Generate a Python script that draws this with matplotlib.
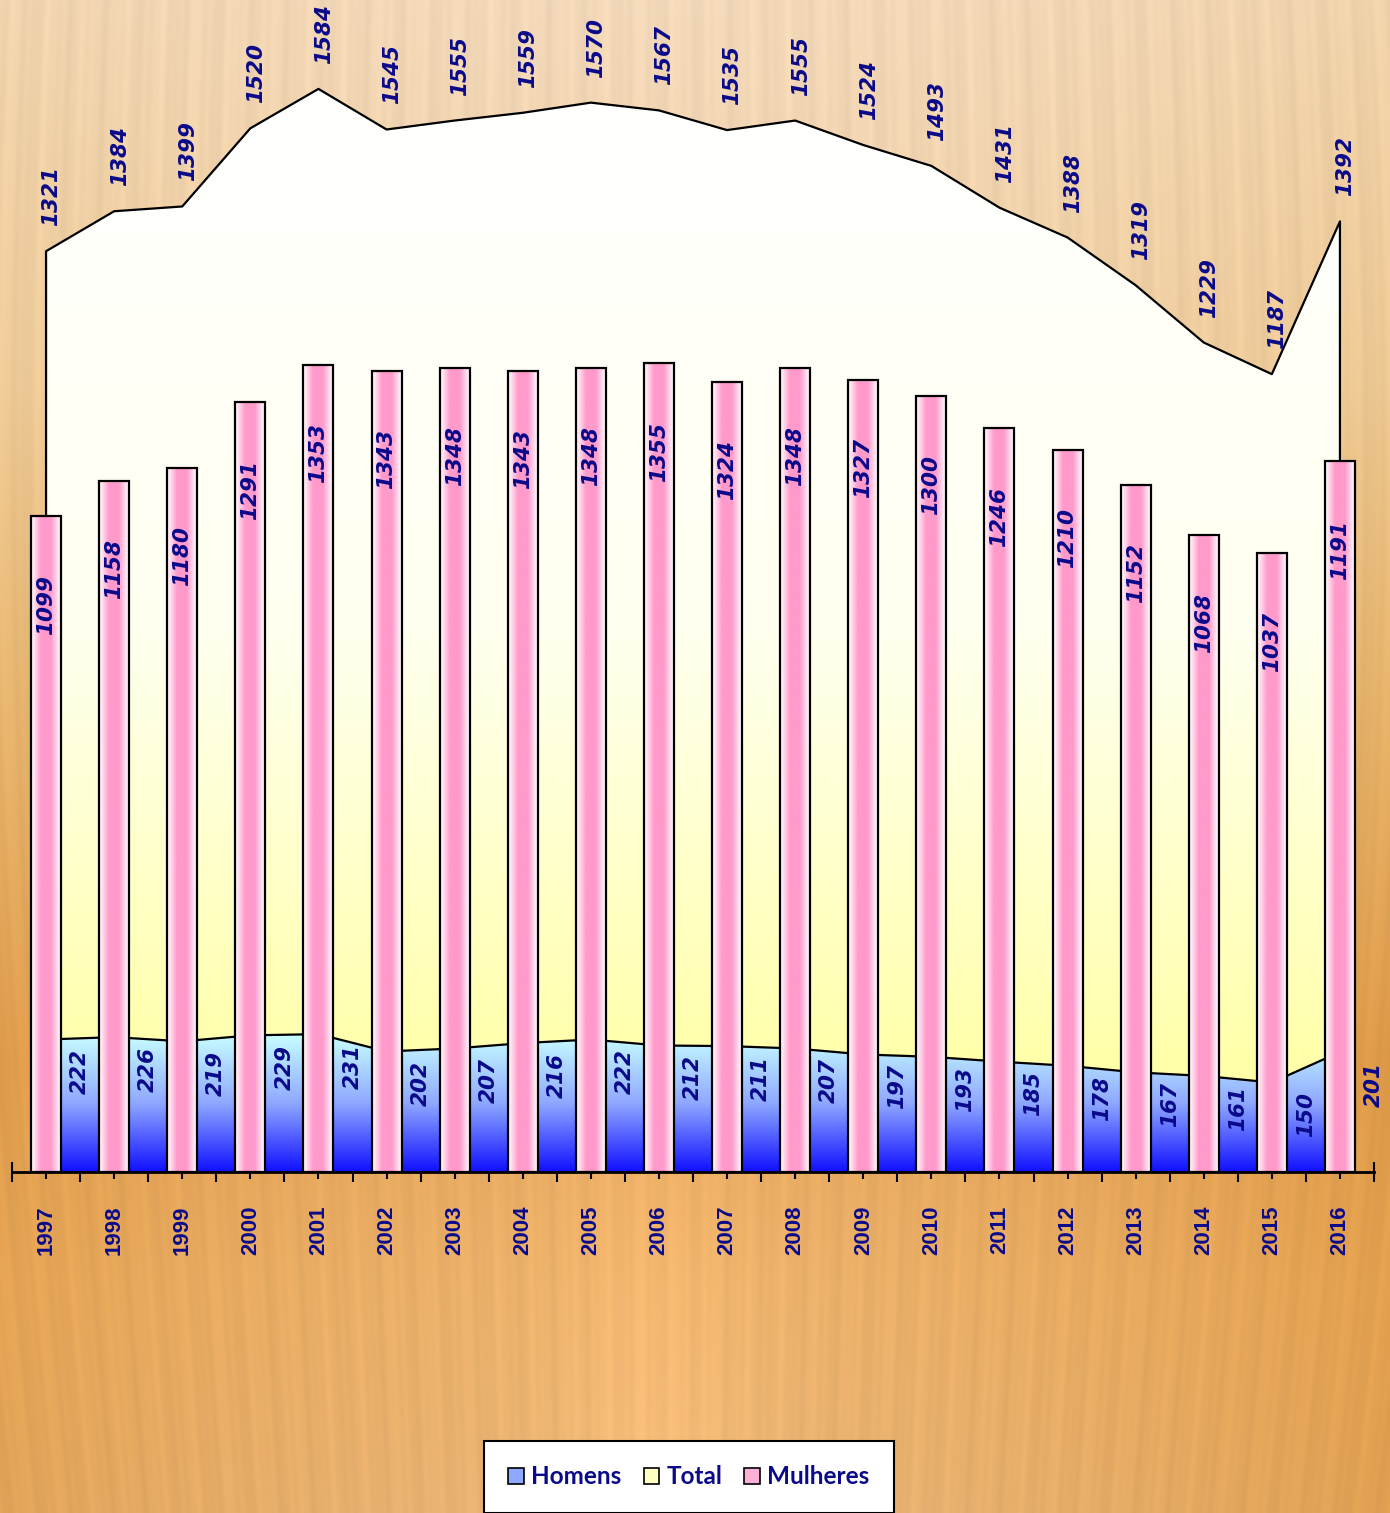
import numpy as np
import matplotlib
matplotlib.use("Agg")
import matplotlib.pyplot as plt
from matplotlib.patches import Patch
from matplotlib.colors import LinearSegmentedColormap


# ==========================================
# 1. Data
# ==========================================
years = [str(y) for y in range(1997, 2017)]
homens = [222, 226, 219, 229, 231, 202, 207, 216, 222, 212,
          211, 207, 197, 193, 185, 178, 167, 161, 150, 201]
total = [1321, 1384, 1399, 1520, 1584, 1545, 1555, 1559, 1570, 1567,
         1535, 1555, 1524, 1493, 1431, 1388, 1319, 1229, 1187, 1392]
mulheres = [1099, 1158, 1180, 1291, 1353, 1343, 1348, 1343, 1348, 1355,
            1324, 1348, 1327, 1300, 1246, 1210, 1152, 1068, 1037, 1191]

NAVY = '#0a0a8a'
W, H = 1390, 1513
DPI = 100
VAL_FONT = ['DejaVu Sans Condensed', 'DejaVu Sans']
TICK_FONT = ['Liberation Sans', 'DejaVu Sans']

# ==========================================
# 2. Wood background (deterministic texture)
# ==========================================
fig = plt.figure(figsize=(W / DPI, H / DPI), dpi=DPI)
bg_ax = fig.add_axes([0, 0, 1, 1])
bg_ax.set_axis_off()

ny, nx = 380, 700
u = np.linspace(0, 1, nx)[None, :]
v = np.linspace(0, 1, ny)[:, None]

stops = np.array([0.0, 0.25, 0.45, 0.70, 0.85, 1.0])
cols = np.array([[243, 217, 186], [241, 210, 170], [236, 192, 132],
                 [230, 168, 94], [236, 178, 108], [234, 180, 118]]) / 255.0
base = np.stack([np.interp(v[:, 0], stops, cols[:, k]) for k in range(3)], axis=-1)
img = np.repeat(base[:, None, :], nx, axis=1)

# darker (more saturated) edges, lighter centre stripe in lower part
d = (np.abs(u - 0.47) * 2) ** 1.8 * (0.25 + 0.75 * v)
edge = np.stack([1 - 0.04 * d, 1 - 0.10 * d, 1 - 0.28 * d], axis=-1)
centre = 1 + 0.05 * np.exp(-((u - 0.47) / 0.07) ** 2) * np.clip((v - 0.55) * 2.5, 0, 1)
bend = u + 0.05 * (v - 0.3) ** 2 * (u - 0.47) * 4
grain = (np.sin(2 * np.pi * 37 * bend + 1.3) * 0.014
         + np.sin(2 * np.pi * 83 * bend + 0.4) * 0.010
         + np.sin(2 * np.pi * 151 * bend + 2.1) * 0.007)
img = np.clip(img * edge * (centre + grain)[..., None], 0, 1)
bg_ax.imshow(img, aspect='auto', extent=(0, 1, 0, 1), interpolation='bilinear')
bg_ax.set_xlim(0, 1)
bg_ax.set_ylim(0, 1)

# ==========================================
# 3. Chart
# ==========================================
ax = fig.add_axes([12 / W, (H - 1172) / H, (1374 - 12) / W, 1172 / H])
ax.patch.set_alpha(0)
x = np.arange(len(years))
h = np.array(homens, dtype=float)
t = np.array(total, dtype=float)
m = np.array(mulheres, dtype=float)
top = h + t
ax.set_xlim(-0.5, len(years) - 0.5)
ax.set_ylim(0, 1964)
grad = np.linspace(0, 1, 256)[:, None]

# Total area (stacked on Homens), yellow -> white gradient
cmap_total = LinearSegmentedColormap.from_list('tot', ['#FFFF99', '#FFFFF0', '#FFFFFF'])
poly_t = ax.fill_between(x, h, top, facecolor='none', edgecolor='none', zorder=2)
im = ax.imshow(grad, cmap=cmap_total, aspect='auto', origin='lower',
               extent=(-0.5, len(years) - 0.5, 0, top.max()), zorder=2)
im.set_clip_path(poly_t.get_paths()[0], transform=ax.transData)
ax.plot(np.r_[x[0], x, x[-1]], np.r_[h[0], top, h[-1]], color='black', lw=1.6, zorder=3)

# Homens area, blue gradient
cmap_h = LinearSegmentedColormap.from_list('hom', ['#1010FF', '#8FA8FF', '#C8FFFF'])
poly_h = ax.fill_between(x, 0, h, facecolor='none', edgecolor='none', zorder=2)
im2 = ax.imshow(grad, cmap=cmap_h, aspect='auto', origin='lower',
                extent=(-0.5, len(years) - 0.5, 0, h.max()), zorder=2)
im2.set_clip_path(poly_h.get_paths()[0], transform=ax.transData)
ax.plot(x, h, color='black', lw=1.6, zorder=3)

# Mulheres bars, horizontal pink gradient
bw = 0.44
cmap_m = LinearSegmentedColormap.from_list('mul', ['#FFFFFF', '#FF9ACB', '#FF9ACB', '#FFFFFF'])
hgrad = np.linspace(0, 1, 64)[None, :]
for xi, mi in zip(x, m):
    ax.imshow(hgrad, cmap=cmap_m, aspect='auto', origin='lower',
              extent=(xi - bw / 2, xi + bw / 2, 0, mi), zorder=4)
ax.bar(x, m, width=bw, facecolor='none', edgecolor='black', linewidth=1.6, zorder=5)

# Labels
lab = dict(rotation=90, color=NAVY, fontsize=15.5, fontweight='bold',
           fontstyle='italic', family=VAL_FONT, zorder=6)
for xi, ti, topi in zip(x, total, top):
    ax.annotate(str(ti), (xi + 0.08, topi), xytext=(0, 18), textcoords='offset points',
                ha='center', va='bottom', **lab)
for xi, mi in zip(x, mulheres):
    ax.annotate(str(mi), (xi, mi), xytext=(0, -42), textcoords='offset points',
                ha='center', va='top', **lab)
for xi, hi in zip(x, homens):
    ax.annotate(str(hi), (xi + 0.5, hi), xytext=(0, -7), textcoords='offset points',
                ha='center', va='top', **lab)

# Axis styling
for s in ['left', 'right', 'top']:
    ax.spines[s].set_visible(False)
ax.spines['bottom'].set_linewidth(2)
ax.spines['bottom'].set_zorder(7)
ax.set_yticks([])
ax.set_xticks(x)
ax.set_xticks(np.arange(-0.5, len(years), 1), minor=True)
ax.set_xticklabels(years, rotation=90, color=NAVY, fontsize=16,
                   fontweight='bold', family=TICK_FONT)
ax.tick_params(axis='x', which='major', direction='inout', length=10, width=1.5, pad=19)
ax.tick_params(axis='x', which='minor', direction='inout', length=15, width=1.5)

# Legend
handles = [Patch(facecolor='#8FA8FF', edgecolor='black', lw=1.2, label='Homens'),
           Patch(facecolor='#FFFFC0', edgecolor='black', lw=1.2, label='Total'),
           Patch(facecolor='#FFB0D4', edgecolor='black', lw=1.2, label='Mulheres')]
leg = fig.legend(handles=handles, loc='center', bbox_to_anchor=(689 / W, 1 - 1477 / H),
                 ncol=3, frameon=True, fancybox=False, framealpha=1, edgecolor='black',
                 handlelength=0.65, handleheight=0.65, handletextpad=0.3, columnspacing=0.9,
                 borderpad=1.0, prop={'family': 'Lato', 'weight': 'bold', 'size': 17.5})
leg.get_frame().set_linewidth(1.5)
for txt in leg.get_texts():
    txt.set_color(NAVY)

fig.savefig('out.png', dpi=DPI)
